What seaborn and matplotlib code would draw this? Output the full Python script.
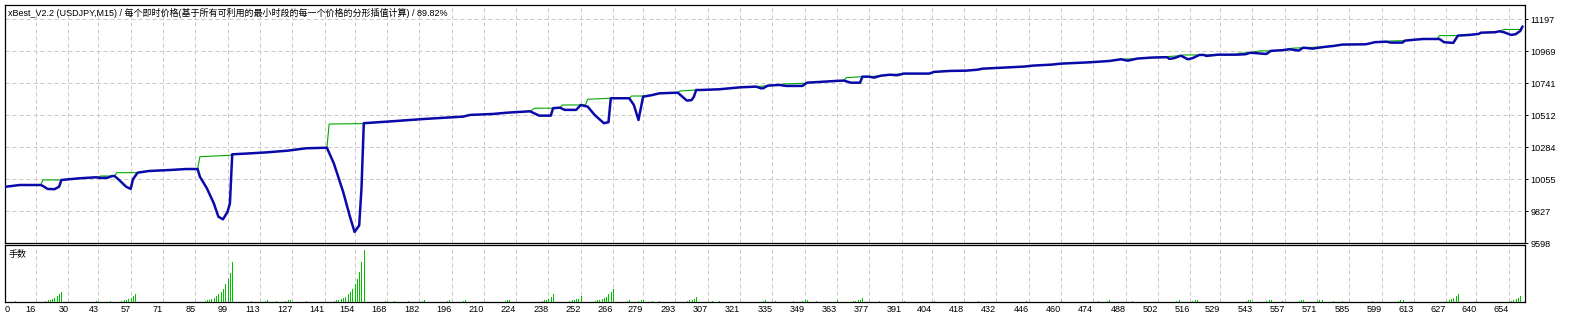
import matplotlib
matplotlib.use("Agg")
import matplotlib.pyplot as plt
import pandas as pd
import seaborn as sns

title_text = "xBest_V2.2 (USDJPY,M15) / 每个即时价格(基于所有可利用的最小时段的每一个价格的分形插值计算) / 89.82%"
lots_label = "手数"

# thick blue curve (trade number, value)
blue_t = [3, 9, 18, 19, 21, 24, 26, 27, 35, 42,
          44, 47, 49, 50, 52, 55, 57, 58, 60, 65,
          74, 81, 86, 87, 90, 93, 95, 97, 99, 100,
          101, 109, 116, 125, 133, 142, 145, 149, 152, 154,
          156, 157, 158, 168, 178, 184, 194, 201, 204, 214,
          220, 230, 234, 239, 240, 243, 245, 250, 252, 255,
          258, 262, 264, 265, 273, 275, 277, 279, 283, 286,
          294, 298, 300, 301, 302, 304, 312, 321, 328, 330,
          331, 333, 338, 341, 348, 350, 357, 363, 366, 369,
          373, 374, 377, 379, 382, 386, 389, 392, 403, 405,
          412, 419, 424, 426, 434, 444, 448, 456, 460, 467,
          473, 481, 486, 489, 493, 499, 506, 507, 509, 512,
          515, 517, 520, 522, 523, 528, 536, 540, 542, 545,
          549, 551, 556, 559, 563, 565, 569, 574, 578, 582,
          592, 594, 596, 601, 603, 608, 609, 612, 617, 624,
          626, 630, 632, 637, 641, 642, 648, 650, 652, 655,
          657, 659, 660]
blue_v = [10002, 10014, 10014, 10007, 9986, 9984, 10002, 10050, 10062, 10069,
          10064, 10066, 10078, 10078, 10050, 10002, 9986, 10055, 10102, 10114,
          10121, 10128, 10128, 10073, 9991, 9884, 9788, 9769, 9824, 9884,
          10233, 10240, 10247, 10259, 10276, 10280, 10169, 9968, 9788, 9679,
          9725, 9990, 10455, 10466, 10478, 10485, 10495, 10502, 10514, 10521,
          10530, 10540, 10509, 10509, 10562, 10566, 10550, 10550, 10585, 10573,
          10514, 10455, 10462, 10633, 10633, 10585, 10478, 10644, 10656, 10668,
          10673, 10616, 10620, 10644, 10692, 10692, 10697, 10711, 10716, 10704,
          10704, 10723, 10728, 10721, 10721, 10744, 10751, 10757, 10759, 10744,
          10744, 10787, 10787, 10780, 10794, 10801, 10797, 10809, 10809, 10821,
          10828, 10830, 10837, 10844, 10851, 10859, 10866, 10873, 10880, 10885,
          10890, 10899, 10911, 10901, 10916, 10923, 10926, 10914, 10919, 10937,
          10911, 10919, 10942, 10942, 10935, 10944, 10944, 10947, 10958, 10954,
          10949, 10971, 10976, 10983, 10973, 10994, 10987, 10999, 11006, 11016,
          11018, 11025, 11033, 11037, 11030, 11030, 11044, 11049, 11056, 11056,
          11033, 11028, 11080, 11085, 11092, 11101, 11104, 11111, 11104, 11085,
          11090, 11113, 11145]

# thin green curve
green_t = [3, 9, 18, 19, 27, 35, 42, 43, 44, 50,
           51, 60, 65, 74, 81, 86, 87, 100, 101, 109,
           116, 125, 133, 142, 143, 157, 158, 168, 178, 184,
           194, 201, 204, 214, 220, 230, 232, 240, 243, 244,
           254, 255, 265, 273, 274, 279, 283, 286, 294, 295,
           302, 304, 312, 321, 328, 333, 338, 340, 349, 350,
           357, 363, 366, 367, 374, 377, 382, 386, 392, 403,
           405, 412, 419, 424, 426, 434, 444, 448, 456, 460,
           467, 473, 481, 486, 493, 499, 506, 512, 513, 522,
           528, 536, 537, 542, 546, 551, 556, 559, 560, 565,
           574, 578, 582, 592, 594, 596, 601, 603, 609, 612,
           617, 623, 624, 632, 637, 641, 642, 648, 650, 652,
           659, 660]
green_v = [10002, 10014, 10014, 10050, 10050, 10062, 10069, 10069, 10078, 10078,
           10102, 10102, 10114, 10121, 10128, 10128, 10216, 10226, 10233, 10240,
           10247, 10259, 10276, 10280, 10449, 10452, 10455, 10466, 10478, 10485,
           10495, 10502, 10514, 10521, 10530, 10540, 10562, 10562, 10566, 10585,
           10585, 10626, 10633, 10633, 10649, 10649, 10656, 10668, 10673, 10685,
           10692, 10692, 10697, 10711, 10716, 10723, 10728, 10735, 10740, 10744,
           10751, 10757, 10759, 10780, 10787, 10787, 10794, 10801, 10809, 10809,
           10821, 10828, 10830, 10837, 10844, 10851, 10859, 10866, 10873, 10880,
           10885, 10890, 10899, 10911, 10916, 10923, 10930, 10937, 10942, 10942,
           10944, 10944, 10954, 10958, 10971, 10971, 10976, 10983, 10990, 10994,
           10999, 11006, 11016, 11018, 11025, 11033, 11037, 11042, 11044, 11049,
           11056, 11056, 11080, 11080, 11085, 11092, 11101, 11104, 11111, 11124,
           11124, 11145]

# lot sizes (bottom panel)
lot_t = [7,
         20, 21, 22, 23, 24, 25, 26, 27,
         42, 48,
         53, 54, 55, 56, 57, 58, 59,
         89, 90, 91, 92, 93, 94, 95, 96, 97, 98, 99, 100, 101,
         109, 115, 116, 120, 124, 125, 126, 133,
         145, 146, 147, 148, 149, 150, 151, 152, 153, 154, 155, 156, 157, 158,
         167, 171, 177, 183, 184, 194, 195, 201, 202, 219, 220, 221,
         235, 236, 237, 238, 239, 240,
         247, 248, 249, 250, 251, 252,
         258, 259, 260, 261, 262, 263, 264, 265, 266,
         272, 273, 277, 278, 279, 283, 286,
         298, 299, 300, 301, 302,
         309, 312, 331, 332, 336, 344, 348, 349, 350, 354, 363,
         370, 371, 372, 373, 374,
         381, 392, 405, 424, 445, 460, 476, 480, 481, 491,
         510, 511, 517, 518, 519, 540, 541, 542, 549, 550, 551, 556,
         563, 564, 565, 571, 572, 573, 578, 582, 595,
         606, 607, 608,
         627, 628, 629, 630, 631, 632,
         640,
         655, 656, 657, 658, 659]
lot_v = [0.01,
         0.01, 0.02, 0.02, 0.03, 0.04, 0.06, 0.08, 0.10,
         0.01, 0.01,
         0.01, 0.02, 0.02, 0.03, 0.04, 0.06, 0.08,
         0.01, 0.02, 0.02, 0.03, 0.04, 0.06, 0.08, 0.10, 0.13, 0.18, 0.23, 0.29, 0.40,
         0.01, 0.01, 0.02, 0.01, 0.01, 0.02, 0.02, 0.01,
         0.01, 0.02, 0.02, 0.03, 0.04, 0.05, 0.08, 0.10, 0.13, 0.18, 0.23, 0.30, 0.40, 0.52,
         0.01, 0.01, 0.01, 0.01, 0.02, 0.01, 0.02, 0.01, 0.02, 0.01, 0.02, 0.02,
         0.01, 0.02, 0.02, 0.03, 0.05, 0.08,
         0.01, 0.02, 0.02, 0.03, 0.03, 0.06,
         0.01, 0.02, 0.02, 0.03, 0.04, 0.05, 0.08, 0.10, 0.13,
         0.01, 0.02, 0.01, 0.02, 0.02, 0.01, 0.01,
         0.01, 0.02, 0.02, 0.03, 0.05,
         0.01, 0.01, 0.01, 0.02, 0.01, 0.01, 0.01, 0.02, 0.02, 0.01, 0.02,
         0.01, 0.01, 0.02, 0.02, 0.04,
         0.01, 0.01, 0.01, 0.01, 0.01, 0.01, 0.01, 0.01, 0.02, 0.01,
         0.01, 0.02, 0.01, 0.02, 0.02, 0.01, 0.02, 0.02, 0.01, 0.02, 0.02, 0.01,
         0.01, 0.02, 0.02, 0.01, 0.02, 0.02, 0.01, 0.01, 0.01,
         0.01, 0.02, 0.02,
         0.01, 0.02, 0.03, 0.04, 0.06, 0.08,
         0.01,
         0.01, 0.02, 0.03, 0.04, 0.06]

x_tick_labels = [0, 16, 30, 43, 57, 71, 85, 99, 113, 127, 141, 154, 168, 182, 196, 210,
                 224, 238, 252, 266, 279, 293, 307, 321, 335, 349, 363, 377, 391, 404,
                 418, 432, 446, 460, 474, 488, 502, 516, 529, 543, 557, 571, 585, 599,
                 613, 627, 640, 654]
y_tick_labels = [9598, 9827, 10055, 10284, 10512, 10741, 10969, 11197]

assert len(blue_t) == len(blue_v)
assert len(green_t) == len(green_v)
assert len(lot_t) == len(lot_v)

BLUE = "#0A0AAA"
GREEN_LINE = "#00A800"
GREEN_BAR = "#00C000"
GRID = "#C8C8C8"

sns.set_style("white")
plt.rcParams['font.family'] = ['Liberation Sans', 'Noto Sans CJK SC', 'DejaVu Sans']

W, H = 1570, 319
fig = plt.figure(figsize=(W / 100, H / 100), dpi=100)
fig.patch.set_facecolor("white")


def px_axes(l, t, r, b):
    return fig.add_axes([l / W, 1 - b / H, (r - l) / W, (b - t) / H])


ax1 = px_axes(4.5, 4.5, 1525.3, 243.3)
ax2 = px_axes(4.5, 245.3, 1525.3, 301.7)

x_left, x_right = 2.34, 661.2
xticks = [x_left] + x_tick_labels[1:]

eq = pd.DataFrame({"trade": blue_t, "value": blue_v})
bal = pd.DataFrame({"trade": green_t, "value": green_v})

sns.lineplot(data=bal, x="trade", y="value", ax=ax1, color=GREEN_LINE,
             linewidth=0.8, estimator=None, sort=False, zorder=3)
sns.lineplot(data=eq, x="trade", y="value", ax=ax1, color=BLUE,
             linewidth=1.8, estimator=None, sort=False, zorder=4)

ax1.set_xlim(x_left, x_right)
ax1.set_ylim(9598, 11302)
ax1.set_xticks(xticks)
ax1.set_yticks(y_tick_labels)
ax1.set_yticklabels([str(v) for v in y_tick_labels])
ax1.yaxis.tick_right()
ax1.tick_params(axis='y', direction='out', length=2.2, width=0.72,
                labelsize=6.6, pad=1.5, colors='black')
ax1.tick_params(axis='x', length=0, labelbottom=False)
ax1.set_xlabel("")
ax1.set_ylabel("")
ax1.grid(True, color=GRID, linestyle=(0, (4, 3)), linewidth=0.72)
ax1.set_axisbelow(True)

ax2.vlines(lot_t, 0, lot_v, colors=GREEN_BAR, linewidth=0.5, antialiased=False, zorder=3)
ax2.set_xlim(x_left, x_right)
ax2.set_ylim(0, 0.567)
ax2.set_xticks(xticks)
ax2.set_xticklabels([str(v) for v in x_tick_labels])
ax2.set_yticks([])
ax2.tick_params(axis='x', direction='inout', length=3, width=0.72,
                labelsize=6.6, pad=1.0, colors='black')
for i, lbl in enumerate(ax2.get_xticklabels()):
    lbl.set_ha('left' if i == 0 else 'right')
ax2.grid(True, axis='x', color=GRID, linestyle=(0, (4, 3)), linewidth=0.72)
ax2.set_axisbelow(True)

for ax in (ax1, ax2):
    ax.set_facecolor("white")
    for s in ax.spines.values():
        s.set_visible(True)
        s.set_color("black")
        s.set_linewidth(0.9)

fig.text(8 / W, 1 - 13 / H, title_text, fontsize=6.5, ha='left', va='center', color='black')
fig.text(8.3 / W, 1 - 255 / H, lots_label, fontsize=6.5, ha='left', va='center', color='black')

fig.savefig("out.png", dpi=100, facecolor="white")
